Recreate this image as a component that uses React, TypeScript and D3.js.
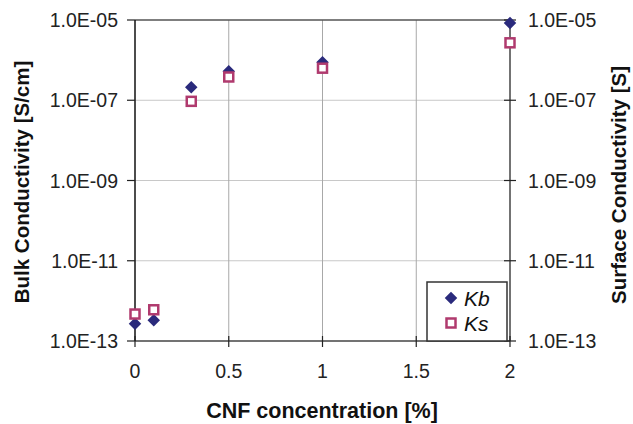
import React from "react";
import * as d3 from "d3";

const concentrations = [0, 0.1, 0.3, 0.5, 1, 2];
const kbValues = [2.7e-13, 3.3e-13, 2.1e-7, 5.3e-7, 8.9e-7, 8.4e-6];
const ksValues = [4.7e-13, 6.0e-13, 9.4e-8, 3.8e-7, 6.3e-7, 2.7e-6];
const xTicks = [0, 0.5, 1, 1.5, 2];
const yTicks = [1e-13, 1e-11, 1e-9, 1e-7, 1e-5];
const yTickLabels = ["1.0E-13", "1.0E-11", "1.0E-09", "1.0E-07", "1.0E-05"];

const W = 633, H = 424;
const L = 135, R = 510, T = 20, B = 341;
const KB = "#2a2a7c";
const KS = "#b03a6e";
const FONT = "'Liberation Sans', Arial, sans-serif";

export default function App() {
  const x = d3.scaleLinear().domain([0, 2]).range([L, R]);
  const y = d3.scaleLog().domain([1e-13, 1e-5]).range([B, T]);
  const diamond = d3.symbol().type(d3.symbolDiamond2).size(100)() as string;
  return (
    <svg width={W} height={H} style={{ position: "absolute", left: 0, top: 0 }} fontFamily={FONT}>
      <rect width={W} height={H} fill="#fff" />
      {/* grid */}
      {yTicks.slice(1, -1).map((t) => (
        <line key={"gy" + t} x1={L} x2={R} y1={y(t)} y2={y(t)} stroke="#c8c8c8" strokeWidth={1} />
      ))}
      {xTicks.slice(1, -1).map((t) => (
        <line key={"gx" + t} x1={x(t)} x2={x(t)} y1={T} y2={B} stroke="#a8a8a8" strokeWidth={1} />
      ))}
      {/* frame */}
      <line x1={L} x2={R} y1={T} y2={T} stroke="#555" strokeWidth={1.5} />
      <line x1={L} x2={R} y1={B} y2={B} stroke="#444" strokeWidth={1.5} />
      <line x1={L} x2={L} y1={T} y2={B} stroke="#111" strokeWidth={1.5} />
      <line x1={R} x2={R} y1={T} y2={B} stroke="#444" strokeWidth={1.5} />
      {/* y ticks */}
      {yTicks.map((t, i) => (
        <g key={"yl" + t}>
          <line x1={L - 8} x2={L} y1={y(t)} y2={y(t)} stroke="#222" strokeWidth={1.2} />
          <text x={118} y={y(t)} dy="0.36em" textAnchor="end" fontSize={19.5} fill="#222">{yTickLabels[i]}</text>
          <line x1={R - 6} x2={R + 6} y1={y(t)} y2={y(t)} stroke="#222" strokeWidth={1.2} />
          <text x={528} y={y(t)} dy="0.36em" textAnchor="start" fontSize={19.5} fill="#222">{yTickLabels[i]}</text>
        </g>
      ))}
      {/* x ticks */}
      {xTicks.map((t) => (
        <g key={"xt" + t}>
          <line x1={x(t)} x2={x(t)} y1={B - 5} y2={B + 6} stroke="#222" strokeWidth={1.2} />
          <text x={x(t)} y={378} textAnchor="middle" fontSize={19.5} fill="#222">{t}</text>
        </g>
      ))}
      {/* titles */}
      <text x={322} y={418} textAnchor="middle" fontSize={21.5} fontWeight="bold" fill="#111">CNF concentration [%]</text>
      <text transform={`translate(22,182) rotate(-90)`} textAnchor="middle" dy="0.36em" fontSize={20.5} fontWeight="bold" fill="#111">Bulk Conductivity [S/cm]</text>
      <text transform={`translate(619,185) rotate(-90)`} textAnchor="middle" dy="0.36em" fontSize={20.5} fontWeight="bold" fill="#111">Surface Conductivity [S]</text>
      {/* data */}
      {concentrations.map((c, i) => (
        <path key={"kb" + i} d={diamond} transform={`translate(${x(c)},${y(kbValues[i])})`} fill={KB} />
      ))}
      {concentrations.map((c, i) => (
        <rect key={"ks" + i} x={x(c) - 4.5} y={y(ksValues[i]) - 4.5} width={9} height={9} fill="#fff" stroke={KS} strokeWidth={2.5} />
      ))}
      {/* legend */}
      <rect x={427} y={282} width={80} height={B - 282} fill="#fff" stroke="#333" strokeWidth={1.5} />
      <path d={diamond} transform="translate(451,298)" fill={KB} />
      <text x={464} y={298} dy="0.36em" fontSize={21} fontStyle="italic" fill="#111">Kb</text>
      <rect x={446.5} y={318.5} width={9} height={9} fill="#fff" stroke={KS} strokeWidth={2.5} />
      <text x={464} y={323} dy="0.36em" fontSize={21} fontStyle="italic" fill="#111">Ks</text>
    </svg>
  );
}
